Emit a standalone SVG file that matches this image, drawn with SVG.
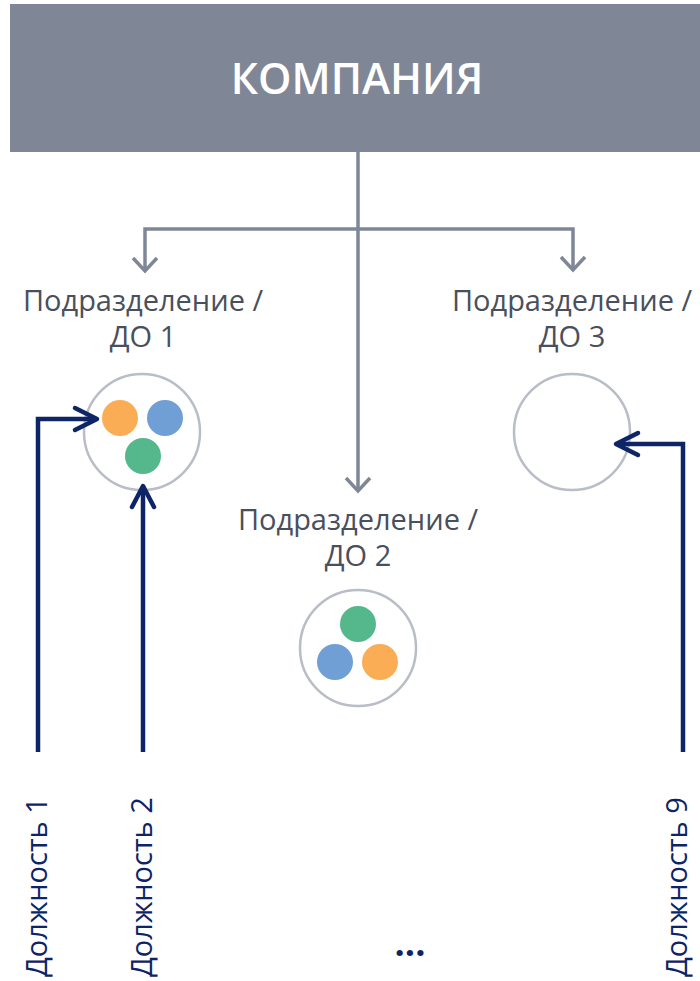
<svg xmlns="http://www.w3.org/2000/svg" width="700" height="981" viewBox="0 0 700 981">
  <style>
    .lbl { font-family: "Open Sans", "Noto Sans", sans-serif; font-size: 29px; fill: #4a4f5c; text-anchor: middle; }
    .pos { font-family: "Open Sans", "Noto Sans", sans-serif; font-size: 29px; fill: #0d2466; }
    .ring { fill: #ffffff; stroke: #b9bdc7; stroke-width: 2.5; }
    .gray { fill: none; stroke: #7f8796; stroke-width: 3.5; }
    .navy { fill: none; stroke: #0d2466; stroke-width: 4.5; }
    .head { stroke-linecap: round; stroke-linejoin: round; }
    .or { fill: #fbad55; }
    .bl { fill: #6f9fd4; }
    .gr { fill: #55b78c; }
  </style>

  <g id="company">
    <rect x="10" y="4" width="690" height="148" fill="#7f8796"/>
    <text x="357" y="94" font-family="'Open Sans', 'Noto Sans', sans-serif" font-size="42.5" font-weight="600" fill="#ffffff" text-anchor="middle">КОМПАНИЯ</text>
  </g>

  <g id="division1">
    <text class="lbl" x="143" y="311">Подразделение /</text>
    <text class="lbl" x="143" y="347">ДО 1</text>
    <circle class="ring" cx="142" cy="432" r="58"/>
    <circle class="or" cx="120" cy="418" r="18"/>
    <circle class="bl" cx="165" cy="418" r="18"/>
    <circle class="gr" cx="143" cy="456" r="18"/>
  </g>

  <g id="division2">
    <text class="lbl" x="358" y="530">Подразделение /</text>
    <text class="lbl" x="358" y="566">ДО 2</text>
    <circle class="ring" cx="358" cy="648" r="58"/>
    <circle class="gr" cx="358" cy="624" r="18"/>
    <circle class="bl" cx="335" cy="662" r="18"/>
    <circle class="or" cx="380" cy="662" r="18"/>
  </g>

  <g id="division3">
    <text class="lbl" x="572" y="311">Подразделение /</text>
    <text class="lbl" x="572" y="347">ДО 3</text>
    <circle class="ring" cx="572" cy="432" r="58"/>
  </g>

  <g id="position1">
    <text class="pos" transform="translate(47,977) rotate(-90)">Должность 1</text>
  </g>
  <g id="position2">
    <text class="pos" transform="translate(152,977) rotate(-90)">Должность 2</text>
  </g>
  <g id="position9">
    <text class="pos" transform="translate(687,977) rotate(-90)">Должность 9</text>
  </g>
  <g id="more">
    <text x="410" y="956" font-family="'Open Sans', 'Noto Sans', sans-serif" font-size="36" font-weight="700" fill="#0d2466" text-anchor="middle">...</text>
  </g>

  <g id="connectors">
    <!-- company to divisions -->
    <path class="gray" d="M358,152 V490"/>
    <path class="gray" d="M145,271 V229 H573 V270"/>
    <path class="gray" d="M133,258 L145,271 L157,258"/>
    <path class="gray" d="M561,257 L573,270 L585,257"/>
    <path class="gray" d="M346,478 L358,491 L370,478"/>
    <!-- positions to divisions -->
    <path class="navy" d="M38,752 V419 H96"/>
    <path class="navy head" d="M75,408 L97,419 L75,430"/>
    <path class="navy" d="M143,752 V487"/>
    <path class="navy head" d="M132,507 L143,486 L154,507"/>
    <path class="navy" d="M683,752 V444 H617"/>
    <path class="navy head" d="M638,433 L616,444 L638,455"/>
  </g>
</svg>
